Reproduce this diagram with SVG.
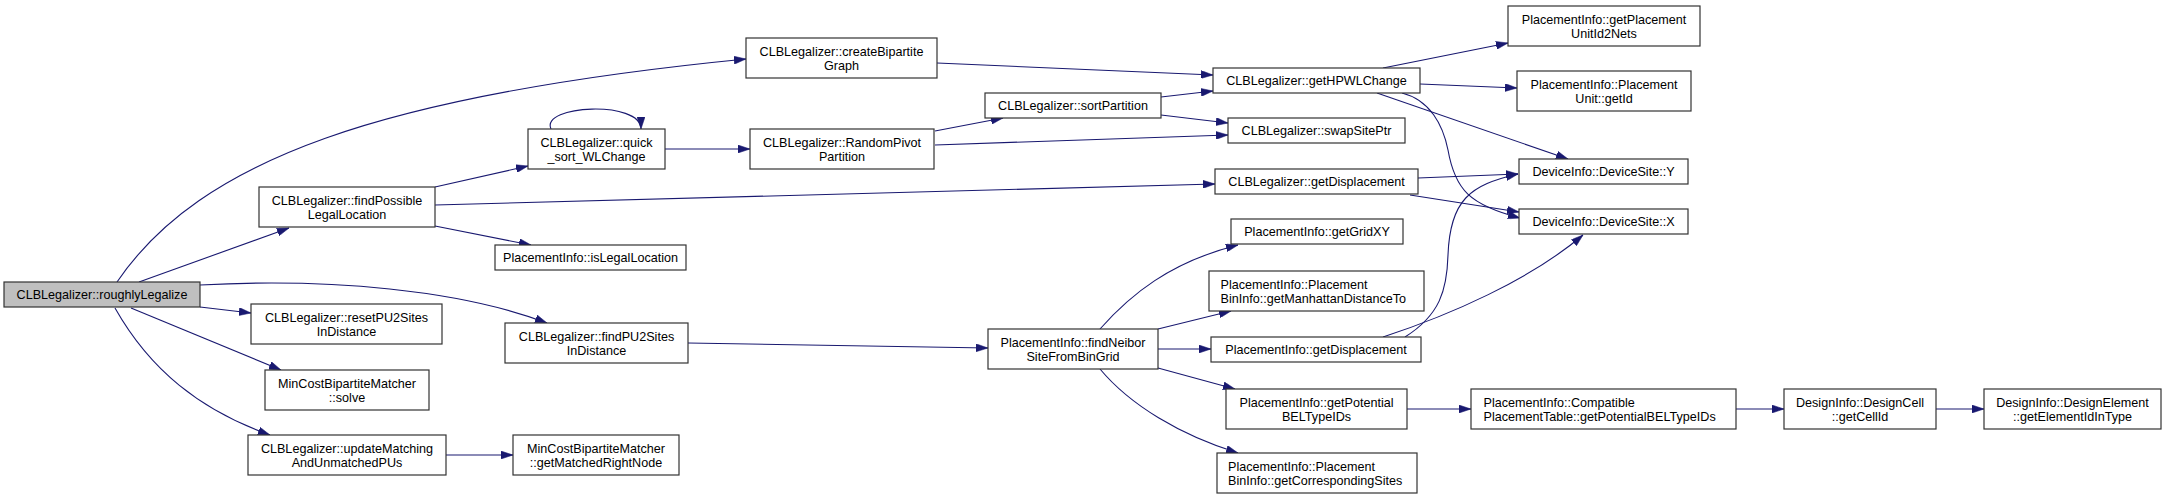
<svg xmlns="http://www.w3.org/2000/svg" width="2167" height="500" viewBox="0 0 2167 500">
<defs>
<style>
.n rect{fill:#fff;stroke:#333;stroke-width:1.2}
.n.root rect{fill:#bfbfbf}
.n text{font-family:"Liberation Sans",Arial,sans-serif;font-size:12.6px;fill:#000;text-anchor:middle}
.n text.l{text-anchor:start}
.e path{fill:none;stroke:#191970;stroke-width:1.1;marker-end:url(#ah)}
</style>
<marker id="ah" viewBox="0 0 12 8" refX="12" refY="4" markerWidth="12" markerHeight="8" markerUnits="userSpaceOnUse" orient="auto">
<path d="M0,0 L12,4 L0,8 z" fill="#191970" stroke="#191970" stroke-width="0.5"/>
</marker>
</defs>
<rect width="2167" height="500" fill="#fff"/>
<g id="edges" class="e">
<path d="M117,282 C200,160 380,95 746,59"/>
<path d="M139,282 L289,228"/>
<path d="M200,285 C330,278 460,290 547,323"/>
<path d="M200,307 L251,313"/>
<path d="M131,308 L281,370"/>
<path d="M115,308 C150,370 200,410 270,435"/>
<path d="M446,455 L513,455"/>
<path d="M435,187 L528,166"/>
<path d="M435,205 L1215,184"/>
<path d="M435,226 L531,245"/>
<path d="M551,129 C540,105 641,100 641,129"/>
<path d="M665,149 L750,149"/>
<path d="M935,131 L1003,118"/>
<path d="M935,145 L1228,135"/>
<path d="M1161,97 L1213,91"/>
<path d="M1161,115 L1228,123"/>
<path d="M937,63 L1213,75"/>
<path d="M1383,68 L1508,43"/>
<path d="M1420,84 L1517,88"/>
<path d="M1377,93 L1568,159"/>
<path d="M1402,93 C1430,100 1443,125 1448,150 C1455,190 1470,205 1520,218"/>
<path d="M1418,178 L1518,174"/>
<path d="M1410,195 L1519,212"/>
<path d="M1405,337 C1440,315 1447,290 1448,255 C1450,200 1470,185 1518,174"/>
<path d="M1383,337 C1450,315 1530,280 1583,235"/>
<path d="M688,343 L988,348"/>
<path d="M1100,329 C1130,295 1170,262 1238,245"/>
<path d="M1158,329 L1231,311"/>
<path d="M1158,349 L1211,349"/>
<path d="M1158,368 L1235,389"/>
<path d="M1100,369 C1130,405 1180,435 1238,453"/>
<path d="M1407,409 L1471,409"/>
<path d="M1736,409 L1784,409"/>
<path d="M1936,409 L1984,409"/>
</g>
<g id="n_rough" class="n root"><rect x="4" y="282" width="196" height="25"/><text x="102" y="299">CLBLegalizer::roughlyLegalize</text></g>
<g id="n_create" class="n"><rect x="746" y="38" width="191" height="40"/><text x="841.5" y="55.5">CLBLegalizer::createBipartite</text><text x="841.5" y="69.5">Graph</text></g>
<g id="n_findPossible" class="n"><rect x="259" y="187" width="176" height="40"/><text x="347" y="204.5">CLBLegalizer::findPossible</text><text x="347" y="218.5">LegalLocation</text></g>
<g id="n_quick" class="n"><rect x="528" y="129" width="137" height="40"/><text x="596.5" y="146.5">CLBLegalizer::quick</text><text x="596.5" y="160.5">_sort_WLChange</text></g>
<g id="n_isLegal" class="n"><rect x="495" y="245" width="191" height="25"/><text x="590.5" y="262">PlacementInfo::isLegalLocation</text></g>
<g id="n_reset" class="n"><rect x="251" y="304" width="191" height="40"/><text x="346.5" y="321.5">CLBLegalizer::resetPU2Sites</text><text x="346.5" y="335.5">InDistance</text></g>
<g id="n_solve" class="n"><rect x="265" y="370" width="164" height="40"/><text x="347" y="387.5">MinCostBipartiteMatcher</text><text x="347" y="401.5">::solve</text></g>
<g id="n_update" class="n"><rect x="248" y="435" width="198" height="40"/><text x="347" y="452.5">CLBLegalizer::updateMatching</text><text x="347" y="466.5">AndUnmatchedPUs</text></g>
<g id="n_getMatched" class="n"><rect x="513" y="435" width="166" height="40"/><text x="596" y="452.5">MinCostBipartiteMatcher</text><text x="596" y="466.5">::getMatchedRightNode</text></g>
<g id="n_findPU2" class="n"><rect x="505" y="323" width="183" height="40"/><text x="596.5" y="340.5">CLBLegalizer::findPU2Sites</text><text x="596.5" y="354.5">InDistance</text></g>
<g id="n_random" class="n"><rect x="750" y="129" width="184" height="40"/><text x="842" y="146.5">CLBLegalizer::RandomPivot</text><text x="842" y="160.5">Partition</text></g>
<g id="n_sort" class="n"><rect x="985" y="93" width="176" height="25"/><text x="1073" y="110">CLBLegalizer::sortPartition</text></g>
<g id="n_hpwl" class="n"><rect x="1213" y="68" width="207" height="25"/><text x="1316.5" y="85">CLBLegalizer::getHPWLChange</text></g>
<g id="n_swap" class="n"><rect x="1228" y="118" width="177" height="25"/><text x="1316.5" y="135">CLBLegalizer::swapSitePtr</text></g>
<g id="n_getDispCLB" class="n"><rect x="1215" y="169" width="203" height="25"/><text x="1316.5" y="186">CLBLegalizer::getDisplacement</text></g>
<g id="n_gridXY" class="n"><rect x="1231" y="219" width="172" height="25"/><text x="1317" y="236">PlacementInfo::getGridXY</text></g>
<g id="n_findNeibor" class="n"><rect x="988" y="329" width="170" height="40"/><text x="1073" y="346.5">PlacementInfo::findNeibor</text><text x="1073" y="360.5">SiteFromBinGrid</text></g>
<g id="n_manhattan" class="n"><rect x="1209" y="271" width="215" height="40"/><text class="l" x="1220.5" y="288.5">PlacementInfo::Placement</text><text class="l" x="1220.5" y="302.5">BinInfo::getManhattanDistanceTo</text></g>
<g id="n_piDisp" class="n"><rect x="1211" y="337" width="210" height="25"/><text x="1316" y="354">PlacementInfo::getDisplacement</text></g>
<g id="n_potential" class="n"><rect x="1226" y="389" width="181" height="40"/><text x="1316.5" y="406.5">PlacementInfo::getPotential</text><text x="1316.5" y="420.5">BELTypeIDs</text></g>
<g id="n_corresp" class="n"><rect x="1217" y="453" width="200" height="40"/><text class="l" x="1228" y="470.5">PlacementInfo::Placement</text><text class="l" x="1228" y="484.5">BinInfo::getCorrespondingSites</text></g>
<g id="n_id2nets" class="n"><rect x="1508" y="6" width="192" height="40"/><text x="1604" y="23.5">PlacementInfo::getPlacement</text><text x="1604" y="37.5">UnitId2Nets</text></g>
<g id="n_getId" class="n"><rect x="1517" y="71" width="174" height="40"/><text x="1604" y="88.5">PlacementInfo::Placement</text><text x="1604" y="102.5">Unit::getId</text></g>
<g id="n_Y" class="n"><rect x="1519" y="159" width="169" height="25"/><text x="1603.5" y="176">DeviceInfo::DeviceSite::Y</text></g>
<g id="n_X" class="n"><rect x="1519" y="209" width="169" height="25"/><text x="1603.5" y="226">DeviceInfo::DeviceSite::X</text></g>
<g id="n_compat" class="n"><rect x="1471" y="389" width="265" height="40"/><text class="l" x="1483.5" y="406.5">PlacementInfo::Compatible</text><text class="l" x="1483.5" y="420.5">PlacementTable::getPotentialBELTypeIDs</text></g>
<g id="n_cellId" class="n"><rect x="1784" y="389" width="152" height="40"/><text x="1860" y="406.5">DesignInfo::DesignCell</text><text x="1860" y="420.5">::getCellId</text></g>
<g id="n_elem" class="n"><rect x="1984" y="389" width="177" height="40"/><text x="2072.5" y="406.5">DesignInfo::DesignElement</text><text x="2072.5" y="420.5">::getElementIdInType</text></g>
</svg>
